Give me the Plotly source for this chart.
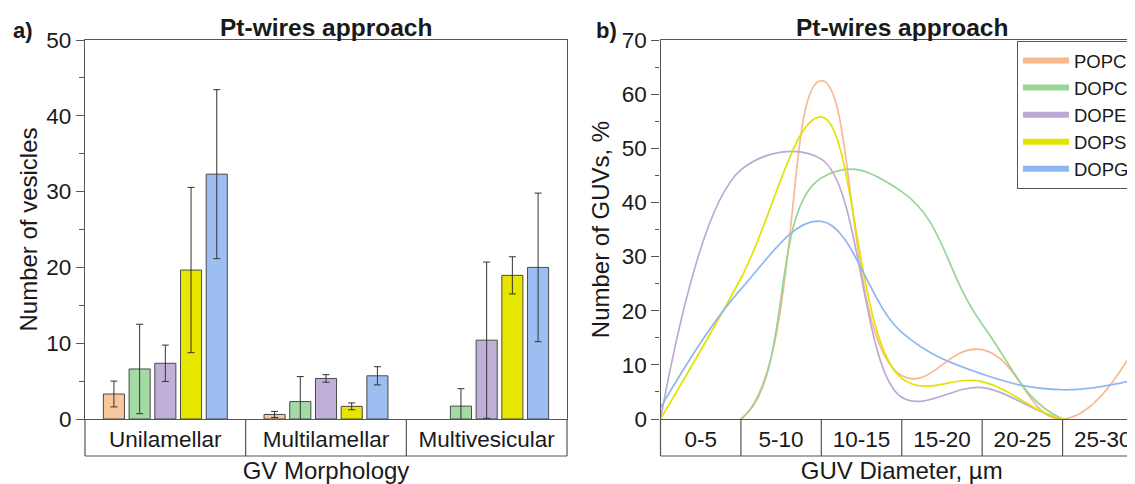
import plotly.graph_objects as go

# ---------------- data ----------------
morph_categories = ['Unilamellar', 'Multilamellar', 'Multivesicular']
lipids = ['POPC', 'DOPC', 'DOPE', 'DOPS', 'DOPG']

popc_counts = [3.3, 0.6, None]
popc_err = [1.7, 0.4, None]
dopc_counts = [6.6, 2.3, 1.7]
dopc_err = [5.9, 3.3, 2.3]
dope_counts = [7.35, 5.35, 10.4]
dope_err = [2.4, 0.5, 10.3]
dops_counts = [19.65, 1.67, 18.95]
dops_err = [10.9, 0.45, 2.45]
dopg_counts = [32.3, 5.7, 20.0]
dopg_err = [11.15, 1.2, 9.8]

diam_edges = [0, 5, 10, 15, 20, 25, 30]
diam_bins = ['0-5', '5-10', '10-15', '15-20', '20-25', '25-30']
popc_pct = [0, 0, 62.5, 8.0, 12.8, 0, 16.0]
dopc_pct = [0, 0, 44.5, 42.0, 17.5, 0, 0]
dope_pct = [0, 46.0, 48.0, 4.0, 5.8, 0, 0]
dops_pct = [0, 26.0, 55.8, 7.5, 6.9, 0, 0]
dopg_pct = [2.1, 24.0, 36.5, 16.0, 8.3, 5.4, 7.6]

# ---------------- style ----------------
W, H = 1135, 484
OFF = 8  # the page's default body margin shifts the figure by this many px
FONT = 'Liberation Sans, Arial, sans-serif'
TXT = '#1a1a1a'
AX = '#555555'
bar_colors = ['#F9C79B', '#A3DBA3', '#C0B0D8', '#E6E600', '#9DBEF0']
line_colors = ['#F9B88E', '#96D596', '#BCA9D6', '#E3E300', '#8FB6F2']
line_smooth = [1.3, 1.3, 1.0, 1.1, 1.1]

counts = [popc_counts, dopc_counts, dope_counts, dops_counts, dopg_counts]
errs = [popc_err, dopc_err, dope_err, dops_err, dopg_err]
pcts = [popc_pct, dopc_pct, dope_pct, dops_pct, dopg_pct]

fig = go.Figure()

for name, c, e, col in zip(lipids, counts, errs, bar_colors):
    fig.add_trace(go.Bar(
        x=morph_categories, y=c, name=name, showlegend=False,
        marker=dict(color=col, line=dict(color='#4a4a4a', width=1)),
        error_y=dict(type='data', array=e, visible=True, color='#333333',
                     thickness=1, width=3.5),
        xaxis='x', yaxis='y'))

for name, p, col, sm in zip(lipids, pcts, line_colors, line_smooth):
    fig.add_trace(go.Scatter(
        x=diam_edges, y=p, name=name, mode='lines', showlegend=False,
        line=dict(color=col, width=1.7, shape='spline', smoothing=sm),
        xaxis='x2', yaxis='y2'))

# legend entries (thicker sample lines, as in the reference legend)
for name, col in zip(lipids, line_colors):
    fig.add_trace(go.Scatter(
        x=[None], y=[None], name=name, mode='lines',
        line=dict(color=col, width=6), xaxis='x2', yaxis='y2'))

# target screen positions minus the page offset
top = 40 - OFF
plot_bottom = 419 - OFF
bottom = H - plot_bottom
plot_h = H - top - bottom
x1_dom = [(85 - OFF) / W, (567 - OFF) / W]
x2_dom = [(660.5 - OFF) / W, 1.0]
x2_max = 30

tickfont = dict(family=FONT, size=22.5, color=TXT)
titlefont = dict(family=FONT, size=24, color=TXT)

common_y = dict(showline=True, linecolor=AX, linewidth=1.2, ticks='outside',
                ticklen=8, tickwidth=1.2, tickcolor=AX, showgrid=False,
                zeroline=False, tickfont=tickfont, dtick=10,
                minor=dict(dtick=5, ticks='outside', ticklen=4.5,
                           tickcolor=AX, tickwidth=1.2))

fig.update_layout(
    width=W, height=H,
    margin=dict(l=0, r=0, t=top, b=bottom, autoexpand=False),
    paper_bgcolor='white', plot_bgcolor='white',
    font=dict(family=FONT, color=TXT),
    barmode='group', bargap=0.2, bargroupgap=0.18,
    xaxis=dict(domain=x1_dom, anchor='y', type='category',
               range=[-0.5, 2.5], showline=True, linecolor=AX, linewidth=1.2,
               mirror=True, ticks='', showgrid=False, tickfont=tickfont,
               title=dict(text='GV Morphology', font=titlefont, standoff=11)),
    yaxis=dict(domain=[0, 1], anchor='x', range=[0, 50], mirror=True,
               title=dict(text='Number of vesicles', font=titlefont, standoff=1),
               **common_y),
    xaxis2=dict(domain=x2_dom, anchor='y2', range=[0, x2_max],
                tickvals=[2.5, 7.5, 12.5, 17.5, 22.5, 27.5], ticktext=diam_bins,
                showline=True, linecolor=AX, linewidth=1.2, mirror=True,
                ticks='', showgrid=False, zeroline=False, tickfont=tickfont,
                title=dict(text='GUV Diameter, µm', font=titlefont, standoff=11)),
    yaxis2=dict(domain=[0, 1], anchor='x2', range=[0, 70],
                title=dict(text='Number of GUVs, %', font=titlefont, standoff=5),
                **common_y),
    legend=dict(x=(1017 - OFF) / W, xanchor='left',
                y=1 - (41 - 40) / plot_h, yanchor='top',
                bgcolor='white', bordercolor=AX, borderwidth=1,
                font=dict(family=FONT, size=18.5, color=TXT),
                itemwidth=46, tracegroupgap=0),
)

# category boxes under the x axes
box_y = -37 / plot_h
shapes = []
for frac in [0, 1 / 3, 2 / 3, 1]:
    shapes.append(dict(type='line', xref='x domain', yref='paper',
                       x0=frac, x1=frac, y0=0, y1=box_y,
                       line=dict(color=AX, width=1.2)))
shapes.append(dict(type='line', xref='x domain', yref='paper', x0=0, x1=1,
                   y0=box_y, y1=box_y, line=dict(color=AX, width=1.2)))
for edge in diam_edges:
    f = edge / x2_max
    shapes.append(dict(type='line', xref='x2 domain', yref='paper',
                       x0=f, x1=f, y0=0, y1=box_y,
                       line=dict(color=AX, width=1.2)))
shapes.append(dict(type='line', xref='x2 domain', yref='paper', x0=0, x1=1,
                   y0=box_y, y1=box_y, line=dict(color=AX, width=1.2)))
fig.update_layout(shapes=shapes)

title_y = 1 + 13 / plot_h
fig.add_annotation(text='<b>Pt-wires approach</b>', xref='x domain', yref='paper',
                   x=0.5, y=title_y, showarrow=False, yanchor='middle',
                   font=dict(family=FONT, size=24.5, color=TXT))
fig.add_annotation(text='<b>Pt-wires approach</b>', xref='x2 domain', yref='paper',
                   x=0.5, y=title_y, showarrow=False, yanchor='middle',
                   font=dict(family=FONT, size=24.5, color=TXT))
fig.add_annotation(text='<b>a)</b>', xref='paper', yref='paper',
                   x=(11 - OFF) / W, xanchor='left', y=1 + 10 / plot_h,
                   yanchor='middle', showarrow=False,
                   font=dict(family=FONT, size=22, color=TXT))
fig.add_annotation(text='<b>b)</b>', xref='paper', yref='paper',
                   x=(594 - OFF) / W, xanchor='left', y=1 + 10 / plot_h,
                   yanchor='middle', showarrow=False,
                   font=dict(family=FONT, size=22, color=TXT))

fig.write_html('out.html')
